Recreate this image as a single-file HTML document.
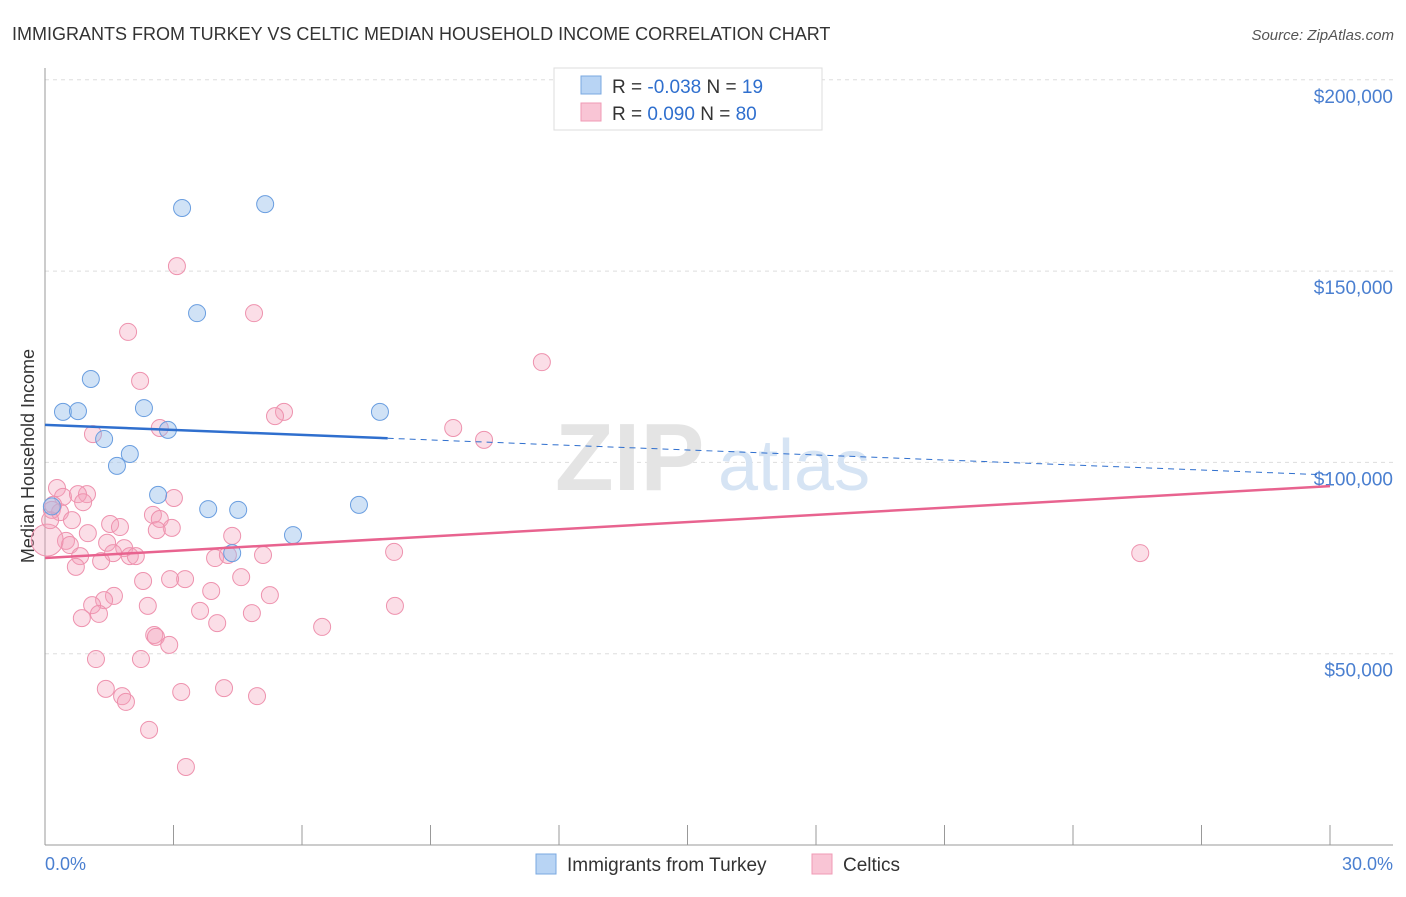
<!DOCTYPE html>
<html><head><meta charset="utf-8"><style>
body{margin:0;background:#fff;font-family:"Liberation Sans",sans-serif;}
svg text{font-family:"Liberation Sans",sans-serif;}
</style></head><body>
<svg id="chart" width="1406" height="892" xmlns="http://www.w3.org/2000/svg">
<text x="12" y="40" font-size="18" fill="#333">IMMIGRANTS FROM TURKEY VS CELTIC MEDIAN HOUSEHOLD INCOME CORRELATION CHART</text>
<text x="1394" y="40" font-size="15" fill="#555" text-anchor="end" font-style="italic">Source: ZipAtlas.com</text>
<text x="34" y="456" font-size="18" fill="#333" text-anchor="middle" transform="rotate(-90 34 456)">Median Household Income</text>
<g id="grid"></g>
<text x="555" y="490" font-size="96" fill="#e4e4e4" font-family="Liberation Serif" font-weight="bold">ZIP</text>
<text x="718" y="490" font-size="72" fill="#d6e4f4">atlas</text>
<g id="points"></g>
<g id="lines"></g>
<g>
<rect x="554" y="68" width="268" height="62" fill="#fff" stroke="#ddd"/>
<rect x="581" y="76" width="20" height="18" fill="#b8d4f4" stroke="#7aa8e0"/>
<rect x="581" y="103" width="20" height="18" fill="#f9c5d5" stroke="#f09ab5"/>
<text x="612" y="93" font-size="19" fill="#333">R = <tspan fill="#2f6fce">-0.038</tspan>   N = <tspan fill="#2f6fce"> 19</tspan></text>
<text x="612" y="120" font-size="19" fill="#333">R = <tspan fill="#2f6fce"> 0.090</tspan>   N = <tspan fill="#2f6fce">80</tspan></text>
</g>
<text x="45" y="870" font-size="18" fill="#4a7fd0">0.0%</text>
<text x="1393" y="870" font-size="18" fill="#4a7fd0" text-anchor="end">30.0%</text>
<g>
<rect x="536" y="854" width="20" height="20" fill="#b8d4f4" stroke="#7aa8e0"/>
<text x="567" y="871" font-size="19" fill="#333">Immigrants from Turkey</text>
<rect x="812" y="854" width="20" height="20" fill="#f9c5d5" stroke="#f09ab5"/>
<text x="843" y="871" font-size="19" fill="#333">Celtics</text>
</g>
</svg>
<script>
const yTicks=[50000,100000,150000,200000];
const yTickLabels=["$50,000","$100,000","$150,000","$200,000"];
const xTicks=[0,3,6,9,12,15,18,21,24,27,30];
const blueX=[0.42,0.77,1.07,1.38,1.68,1.98,2.31,2.64,2.87,3.20,3.55,3.81,4.51,4.37,5.14,5.79,7.33,7.82,0.16];
const blueY=[113.2,113.4,121.8,106.1,99.1,102.2,114.2,91.5,108.5,166.5,139.0,87.8,87.6,76.3,167.5,81.0,88.9,113.2,88.5];
const pinkX=[3.08,4.88,1.94,11.6,2.22,5.58,5.37,9.53,10.25,2.68,1.12,0.28,0.42,0.98,0.77,3.01,0.89,0.16,0.35,0.63,1.52,1.75,2.52,2.68,2.96,2.61,1.0,4.37,0.49,0.58,1.45,1.85,0.82,1.59,1.98,2.12,3.97,4.27,5.09,8.15,25.57,1.31,0.72,4.58,3.27,2.92,2.29,1.61,3.88,5.25,1.38,1.10,2.40,8.17,3.62,4.83,1.26,0.86,4.02,6.47,2.55,2.59,2.90,1.19,2.24,1.42,3.18,4.18,1.80,4.95,1.89,2.43,3.29,0.05,0.12,0.19];
const pinkY=[151.3,139.0,134.1,126.2,121.3,113.2,112.1,109.0,105.9,109.0,107.4,93.3,91.0,91.7,91.7,90.7,89.6,87.6,87.0,84.9,83.9,83.1,86.3,85.2,82.9,82.3,81.5,80.8,79.5,78.4,79.0,77.6,75.5,76.3,75.5,75.5,75.0,75.8,75.8,76.6,76.3,74.2,72.7,70.0,69.5,69.5,69.0,65.1,66.4,65.3,64.0,62.7,62.5,62.5,61.2,60.6,60.4,59.3,58.0,57.0,54.9,54.4,52.3,48.6,48.6,40.8,40.0,41.0,38.9,38.9,37.4,30.1,20.4,79.7,84.9,88.9];
const blueTrend=[109.8,96.7];
const pinkTrend=[75.0,93.8];
const NS="http://www.w3.org/2000/svg";
function X(p){return 45+p*(1330-45)/30;}
function Y(k){return 845-k*1000*191.3/50000;}
function mk(t,a,parent){const e=document.createElementNS(NS,t);for(const k in a)e.setAttribute(k,a[k]);document.getElementById(parent).appendChild(e);return e;}
yTicks.forEach((v,i)=>{
 const l=mk('line',{x1:45,x2:1393,y1:Y(v/1000),y2:Y(v/1000),stroke:'#ddd','stroke-dasharray':'4,4'},'grid');
 
 
 const t=mk('text',{x:1393,y:Y(v/1000)+23,'font-size':19,fill:'#4a7fd0','text-anchor':'end'},'grid');
 t.textContent=yTickLabels[i];
 
 
});
const ax=mk('line',{x1:45,x2:45,y1:68,y2:845,stroke:'#999'},'grid');


const bx=mk('line',{x1:45,x2:1393,y1:845,y2:845,stroke:'#999'},'grid');


xTicks.forEach(p=>{
 const t=mk('line',{x1:X(p),x2:X(p),y1:825,y2:845,stroke:'#999'},'grid');
 
 
});
pinkX.forEach((x,i)=>{
 const c=mk('circle',{cx:X(x),cy:Y(pinkY[i]),r:i==73?16:8.5,fill:'rgba(244,160,185,0.35)',stroke:'#ee92ae','stroke-width':1},'points');
 
 
});
blueX.forEach((x,i)=>{
 const c=mk('circle',{cx:X(x),cy:Y(blueY[i]),r:8.5,fill:'rgba(150,190,235,0.45)',stroke:'#6a9ee0','stroke-width':1},'points');
 
 
});
const bAt=p=>blueTrend[0]+(blueTrend[1]-blueTrend[0])*p/30;
const b1=mk('line',{x1:X(0),y1:Y(bAt(0)),x2:X(8),y2:Y(bAt(8)),stroke:'#2f6fce','stroke-width':2.5},'lines');


const b2=mk('line',{x1:X(8),y1:Y(bAt(8)),x2:X(30),y2:Y(bAt(30)),stroke:'#2f6fce','stroke-width':1,'stroke-dasharray':'6,5'},'lines');


const p1=mk('line',{x1:X(0),y1:Y(pinkTrend[0]),x2:X(30),y2:Y(pinkTrend[1]),stroke:'#e8638f','stroke-width':2.5},'lines');


</script>
</body></html>
